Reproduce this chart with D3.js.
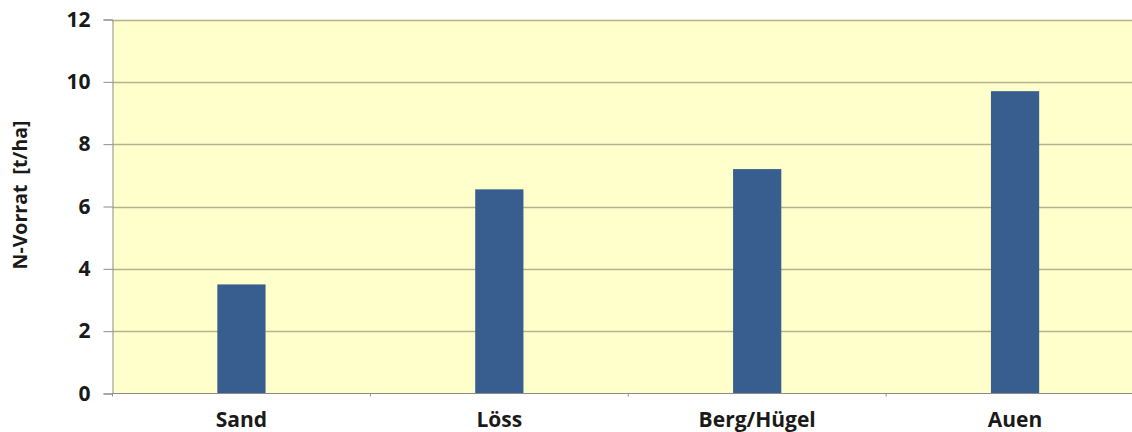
<!DOCTYPE html>
<html>
<head>
<meta charset="utf-8">
<script src="https://cdn.jsdelivr.net/npm/d3@7"></script>
<style>
  html, body { margin: 0; padding: 0; background: #ffffff; }
  svg { display: block; }
  text { font-family: "Open Sans", "Liberation Sans", sans-serif; font-weight: 700; fill: #1a1a1a; }
</style>
</head>
<body>
<svg id="chart" width="1132" height="432"></svg>
<script>
// Stickstoffvorrat nach Bodenlandschaft
const categories = ["Sand", "Löss", "Berg/Hügel", "Auen"];
const values = [3.5, 6.55, 7.2, 9.7];
const yTicks = [0, 2, 4, 6, 8, 10, 12];
const yLabel = "N-Vorrat [t/ha]";

const svg = d3.select("#chart");
const margin = { left: 112.5, top: 19.5, bottom: 393.5 };
const plotRight = 1144;

const x = d3.scaleBand()
  .domain(categories)
  .range([margin.left, plotRight])
  .paddingInner(0.813)
  .paddingOuter(0.4065);

const y = d3.scaleLinear()
  .domain([0, 12])
  .range([margin.bottom, margin.top]);

// plot background
svg.append("rect")
  .attr("x", margin.left)
  .attr("y", margin.top)
  .attr("width", plotRight - margin.left)
  .attr("height", margin.bottom - margin.top)
  .attr("fill", "#ffffcc");

// horizontal gridlines
svg.append("g")
  .selectAll("line")
  .data(yTicks.filter(d => d > 0))
  .join("line")
  .attr("x1", margin.left)
  .attr("x2", plotRight)
  .attr("y1", d => Math.round(y(d)) + 0.5)
  .attr("y2", d => Math.round(y(d)) + 0.5)
  .attr("stroke", "#b5b38e")
  .attr("stroke-width", 1.5);

// bars
svg.append("g")
  .selectAll("rect")
  .data(categories.map((c, i) => ({ c, v: values[i] })))
  .join("rect")
  .attr("x", d => x(d.c))
  .attr("width", x.bandwidth())
  .attr("y", d => y(d.v))
  .attr("height", d => y(0) - y(d.v))
  .attr("fill", "#375e8f");

// y axis
const yAxis = d3.axisLeft(y)
  .tickValues(yTicks)
  .tickSize(9)
  .tickPadding(13)
  .tickFormat(d3.format("d"));

const gy = svg.append("g")
  .attr("transform", `translate(${margin.left},0)`)
  .call(yAxis);
gy.select(".domain").attr("stroke", "#8c8c8c").attr("stroke-width", 1);
gy.selectAll(".tick line").attr("stroke", "#8c8c8c");
gy.selectAll(".tick text")
  .attr("font-size", 21)
  .style("font-family", "'Open Sans', sans-serif")
  .style("font-weight", 700)
  .attr("fill", "#1a1a1a");

// x axis: category ticks sit on the band boundaries
const step = x.step();
const boundaries = d3.range(categories.length + 1).map(i => margin.left + i * step);
const gx = svg.append("g");
gx.append("line")
  .attr("x1", margin.left)
  .attr("x2", plotRight)
  .attr("y1", margin.bottom)
  .attr("y2", margin.bottom)
  .attr("stroke", "#8c8c8c");
gx.selectAll("line.tick")
  .data(boundaries)
  .join("line")
  .attr("class", "tick")
  .attr("x1", d => d)
  .attr("x2", d => d)
  .attr("y1", margin.bottom)
  .attr("y2", margin.bottom + 3)
  .attr("stroke", "#8c8c8c");
gx.selectAll("text")
  .data(categories)
  .join("text")
  .attr("x", d => x(d) + x.bandwidth() / 2)
  .attr("y", 426.5)
  .attr("text-anchor", "middle")
  .attr("font-size", 21)
  .text(d => d);

// y axis title
svg.append("text")
  .attr("transform", `translate(27,195) rotate(-90)`)
  .attr("text-anchor", "middle")
  .attr("font-size", 19.5)
  .attr("word-spacing", 5)
  .text(yLabel);
</script>
</body>
</html>
